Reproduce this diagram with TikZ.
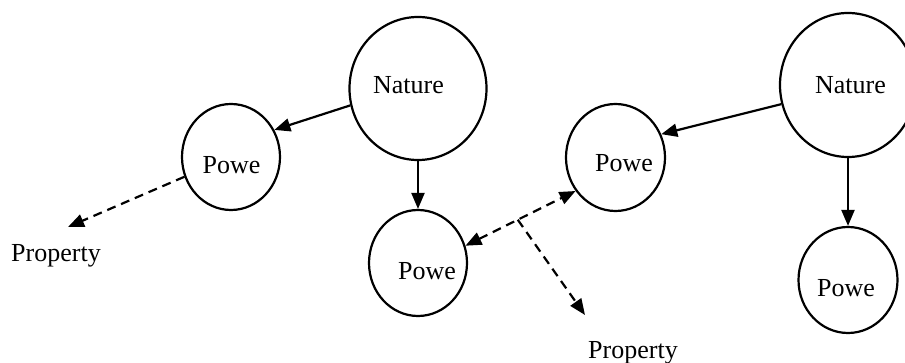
\documentclass[tikz,border=0pt]{standalone}
\usepackage{fontspec}
\setmainfont{Liberation Serif}
\usetikzlibrary{arrows.meta,shapes.geometric,calc}
\tikzset{
  bubble/.style={draw,ellipse,line width=2.2pt,inner sep=0pt},
  lbl/.style={font=\fontsize{26}{30}\selectfont,anchor=base,inner sep=0pt},
  link/.style={line width=2.2pt,-{Triangle[length=16pt,width=13pt]}},
  hint/.style={line width=2.2pt,dash pattern=on 9pt off 6pt}
}
\begin{document}
\begin{tikzpicture}[x=1pt,y=-1pt]
  \useasboundingbox (0,0) rectangle (905,363);

  % left pair
  \node[bubble,minimum width=137pt,minimum height=143pt] (natureA) at (418,88.5) {};
  \node[lbl] (natureAtxt) at (408.5,94) {Nature};
  \node[bubble,minimum width=98pt,minimum height=106pt] (powA) at (231,157) {};
  \node[lbl] (powAtxt) at (231.5,174) {Powe};
  \node[bubble,minimum width=98pt,minimum height=106pt] (powB) at (418,263) {};
  \node[lbl] (powBtxt) at (427,280) {Powe};
  \node[lbl] (propA) at (56,262) {Property};
  \coordinate (propAtip) at (68,227);

  \draw[link] (natureA.194) -- (powA.32);
  \draw[link] (natureA.south) -- (powB.north);
  \draw[hint,-{Triangle[length=16pt,width=13pt]}] (powA.203) -- (propAtip);

  % right pair
  \node[bubble,minimum width=136pt,minimum height=144pt] (natureB) at (848,85) {};
  \node[lbl] (natureBtxt) at (850.5,94) {Nature};
  \node[bubble,minimum width=99pt,minimum height=107pt] (powC) at (615.5,157.5) {};
  \node[lbl] (powCtxt) at (624,172) {Powe};
  \node[bubble,minimum width=99pt,minimum height=106pt] (powD) at (848,280) {};
  \node[lbl] (powDtxt) at (846,297) {Powe};
  \node[lbl] (propB) at (633,358) {Property};
  \coordinate (propBtip) at (585,315);

  \draw[link] (natureB.196) -- (powC.27);
  \draw[link] (natureB.south) -- (powD.north);

  % shared link
  \draw[hint,{Triangle[length=16pt,width=13pt]}-{Triangle[length=16pt,width=13pt]}] (powB.20) -- (powC.220);
  \coordinate (fork) at ($(powB.20)!0.475!(powC.220)$);
  \draw[hint,-{Triangle[length=16pt,width=13pt]}] (fork) -- (propBtip);
\end{tikzpicture}
\end{document}
